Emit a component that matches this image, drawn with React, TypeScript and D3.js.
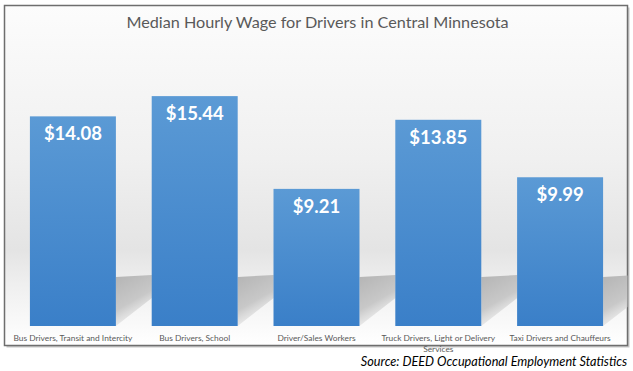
import * as d3 from 'd3';

const categories = [
  ['Bus Drivers, Transit and Intercity'],
  ['Bus Drivers, School'],
  ['Driver/Sales Workers'],
  ['Truck Drivers, Light or Delivery', 'Services'],
  ['Taxi Drivers and Chauffeurs'],
];
const wages = [14.08, 15.44, 9.21, 13.85, 9.99];
const title = 'Median Hourly Wage for Drivers in Central Minnesota';
const source = 'Source: DEED Occupational Employment Statistics';

const W = 633;
const H = 371;
const box = { left: 4.5, top: 5.5, right: 627.5, bottom: 345.5 };
const margin = { top: 58, bottom: 326, left: 12, right: 621 };

export default function App() {
  const keys = categories.map((c) => c.join(' '));
  const x = d3.scaleBand<string>().domain(keys).range([margin.left, margin.right]).paddingInner(0.294).paddingOuter(0.147);
  const y = d3.scaleLinear().domain([0, 18]).range([margin.bottom, margin.top]);
  const base = y(0);
  const bw = x.bandwidth();

  return (
    <div style={{ position: 'absolute', left: 0, top: 0 }}>
      <svg width={W} height={H} style={{ display: 'block', fontFamily: 'Lato, "Open Sans", sans-serif' }}>
        <defs>
          <linearGradient id="bg" x1="0" y1="0" x2="0" y2="1">
            <stop offset="0" stopColor="#fcfcfc" />
            <stop offset="0.45" stopColor="#f0f0f0" />
            <stop offset="0.72" stopColor="#e4e4e4" />
            <stop offset="0.82" stopColor="#efefef" />
            <stop offset="1" stopColor="#ffffff" />
          </linearGradient>
          <linearGradient id="bar" x1="0" y1="0" x2="0" y2="1">
            <stop offset="0" stopColor="#5b9ad5" />
            <stop offset="1" stopColor="#3a7fc8" />
          </linearGradient>
          <linearGradient id="shadow" x1="0" y1="0" x2="0.4" y2="1">
            <stop offset="0" stopColor="#b4b4b4" />
            <stop offset="0.6" stopColor="#c8c8c8" />
            <stop offset="1" stopColor="#e6e6e6" stopOpacity="0.4" />
          </linearGradient>
          <clipPath id="boxclip">
            <rect x={box.left} y={box.top} width={box.right - box.left} height={box.bottom - box.top} />
          </clipPath>
        </defs>

        <rect x={box.left + 2} y={box.top + 2} width={box.right - box.left} height={box.bottom - box.top} fill="#c8c8c8" />
        <rect x={box.left} y={box.top} width={box.right - box.left} height={box.bottom - box.top} fill="url(#bg)" stroke="#6e6e6e" strokeWidth={1.5} />

        <text x={W / 2 + 1} y={28} textAnchor="middle" fontSize={16.2} fill="#595959">{title}</text>

        <g clipPath="url(#boxclip)">
          {keys.map((k) => {
            const xr = (x(k) ?? 0) + bw;
            const pts = [
              [xr, base],
              [xr, base - 49],
              [xr + 36, base - 51],
              [xr + 36, base - 28],
            ];
            return <polygon key={'s' + k} points={pts.map((p) => p.join(',')).join(' ')} fill="url(#shadow)" />;
          })}
        </g>

        {keys.map((k, i) => (
          <g key={k}>
            <rect x={x(k)} y={y(wages[i])} width={bw} height={base - y(wages[i])} fill="url(#bar)" />
            <text x={(x(k) ?? 0) + bw / 2} y={y(wages[i]) + 24} textAnchor="middle" fontSize={18.5} fontWeight="bold" fill="#ffffff">
              {'$' + wages[i].toFixed(2)}
            </text>
            {categories[i].map((line, j) => (
              <text key={line} x={(x(k) ?? 0) + bw / 2} y={base + 14.5 + j * 11} textAnchor="middle" fontSize={8.4} fill="#595959">
                {line}
              </text>
            ))}
          </g>
        ))}

        <text x={627} y={366} textAnchor="end" fontSize={12.7} fontStyle="italic" fill="#000000">{source}</text>
      </svg>
    </div>
  );
}
